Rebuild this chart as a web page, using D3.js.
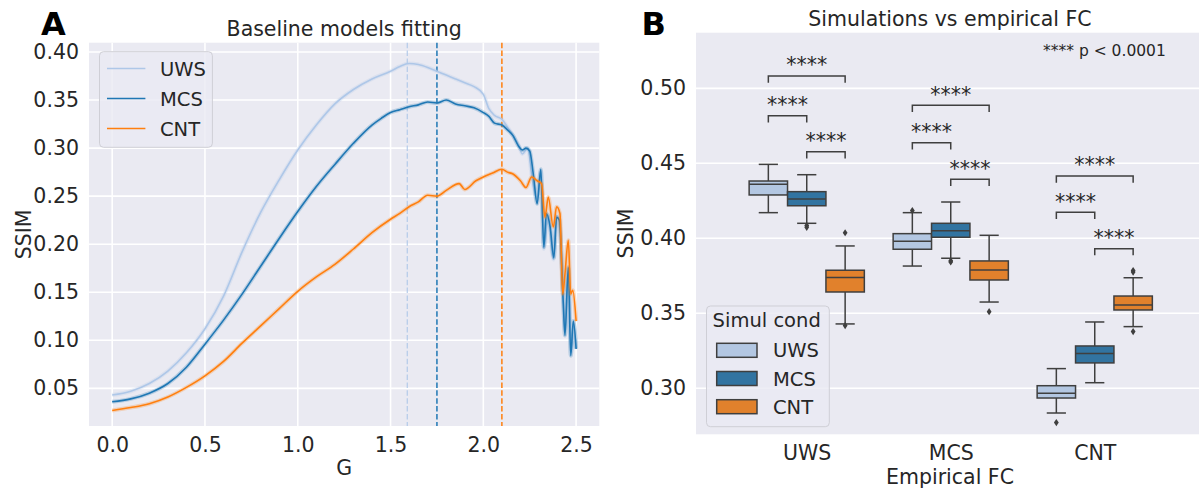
<!DOCTYPE html>
<html><head><meta charset="utf-8">
<script src="https://cdn.jsdelivr.net/npm/d3@7"></script>
<style>body{margin:0;background:#fff} svg text{font-family:"DejaVu Sans",sans-serif}</style>
</head><body>
<svg id="chart" width="1199" height="488"></svg>
<script>
// ---------- Panel A data ----------
const conditions = ["UWS", "MCS", "CNT"];
const uwsG    = [0,0.1,0.2,0.3,0.4,0.5,0.6,0.7,0.8,0.9,1.0,1.1,1.2,1.3,1.4,1.5,1.55,1.6,1.65,1.7,1.75,1.8,1.85,1.9,1.95,2.0,2.03,2.06,2.1,2.13,2.16,2.19,2.21,2.24,2.26,2.29,2.31,2.326,2.35,2.377,2.395,2.413,2.431,2.44,2.458,2.474,2.485,2.5];
const uwsSSIM = [0.043,0.047,0.055,0.068,0.087,0.112,0.146,0.192,0.233,0.267,0.298,0.324,0.346,0.361,0.372,0.380,0.385,0.388,0.387,0.384,0.380,0.376,0.372,0.368,0.364,0.356,0.341,0.334,0.330,0.322,0.313,0.303,0.294,0.300,0.272,0.247,0.276,0.195,0.230,0.184,0.230,0.216,0.140,0.110,0.175,0.088,0.118,0.092];
const mcsG    = [0,0.1,0.2,0.3,0.4,0.5,0.6,0.7,0.8,0.9,1.0,1.1,1.2,1.3,1.4,1.45,1.5,1.55,1.6,1.65,1.7,1.75,1.8,1.85,1.9,1.95,2.0,2.03,2.06,2.1,2.13,2.16,2.19,2.21,2.23,2.25,2.27,2.29,2.31,2.326,2.34,2.36,2.38,2.395,2.41,2.431,2.44,2.458,2.471,2.485,2.5];
const mcsSSIM = [0.036,0.039,0.045,0.055,0.072,0.096,0.121,0.148,0.177,0.206,0.234,0.260,0.283,0.305,0.324,0.331,0.337,0.340,0.343,0.345,0.348,0.347,0.350,0.346,0.344,0.342,0.337,0.333,0.326,0.324,0.319,0.313,0.302,0.298,0.300,0.297,0.272,0.242,0.278,0.197,0.232,0.218,0.186,0.228,0.225,0.138,0.105,0.176,0.084,0.120,0.091];
const cntG    = [0,0.1,0.2,0.3,0.4,0.5,0.6,0.7,0.8,0.9,1.0,1.1,1.2,1.3,1.4,1.5,1.55,1.6,1.65,1.7,1.75,1.8,1.87,1.9,1.96,2.0,2.05,2.1,2.13,2.16,2.2,2.23,2.26,2.29,2.314,2.332,2.35,2.377,2.395,2.413,2.428,2.44,2.458,2.471,2.482,2.5];
const cntSSIM = [0.027,0.030,0.034,0.041,0.051,0.063,0.078,0.097,0.115,0.133,0.151,0.166,0.179,0.195,0.212,0.226,0.232,0.239,0.244,0.251,0.250,0.256,0.263,0.257,0.266,0.270,0.274,0.278,0.275,0.273,0.266,0.259,0.270,0.266,0.263,0.228,0.249,0.218,0.239,0.232,0.148,0.169,0.204,0.148,0.152,0.120];
const bestG = [1.59, 1.75, 2.1];
const xTicksA = [0, 0.5, 1.0, 1.5, 2.0, 2.5];
const yTicksA = [0.05, 0.10, 0.15, 0.20, 0.25, 0.30, 0.35, 0.40];

// ---------- Panel B data (box statistics per simulated condition, across empirical FC) ----------
const empirical = ["UWS", "MCS", "CNT"];
const whiskLo = [[0.4171,0.3815,0.2835],[0.4100,0.3867,0.3037],[0.3429,0.3575,0.3411]];
const q1      = [[0.4289,0.3927,0.2935],[0.4217,0.4007,0.3169],[0.3642,0.3722,0.3522]];
const median  = [[0.4360,0.3980,0.2967],[0.4262,0.4051,0.3231],[0.3738,0.3789,0.3555]];
const q3      = [[0.4382,0.4031,0.3017],[0.4311,0.4100,0.3282],[0.3787,0.3849,0.3615]];
const whiskHi = [[0.4493,0.4171,0.3131],[0.4424,0.4242,0.3442],[0.3949,0.4020,0.3737]];
const outliers = [[[],[0.4185],[0.2771]],[[0.4085,0.4073],[0.3850,0.3842],[]],[[0.3418,0.4037],[0.3511],[0.3775,0.3785,0.3378]]];
const yTicksB = [0.30, 0.35, 0.40, 0.45, 0.50];
// significance brackets
const brCat  = [0,0,0,1,1,1,2,2,2];
const brFrom = [0,0,1,0,0,1,0,0,1];
const brTo   = [2,1,2,2,1,2,2,1,2];
const brY    = [0.5082,0.4817,0.4577,0.4887,0.4637,0.4393,0.4415,0.4173,0.3931];
const brLabel = "****";

// ---------- styling ----------
const lineColors = ["#aec7e8", "#1f77b4", "#ff7f0e"];
const boxColors = ["#b3c7e2", "#3274a1", "#e1812c"];
const BG = "#eaeaf2", TXT = "#262626", EDGE = "#3f3f3f";
const FS = 20.5, LFS = 19.5;
const svg = d3.select("#chart");

function styleAxis(g) {
  g.select(".domain").remove();
  g.attr("font-family", "DejaVu Sans, sans-serif").attr("font-size", FS).style("color", TXT);
}

// ================= Panel A =================
const A = {l: 89, r: 599.3, t: 42.7, b: 426};
const xA = d3.scaleLinear().domain([-0.125, 2.625]).range([A.l, A.r]);
const yA = d3.scaleLinear().domain([0.0108, 0.4097]).range([A.b, A.t]);
svg.append("rect").attr("x", A.l).attr("y", A.t).attr("width", A.r - A.l).attr("height", A.b - A.t).attr("fill", BG);
const gA = svg.append("g");
gA.selectAll(".vg").data(xTicksA).join("line").attr("x1", d => xA(d)).attr("x2", d => xA(d))
  .attr("y1", A.t).attr("y2", A.b).attr("stroke", "#fff").attr("stroke-width", 1.6);
gA.selectAll(".hg").data(yTicksA).join("line").attr("y1", d => yA(d)).attr("y2", d => yA(d))
  .attr("x1", A.l).attr("x2", A.r).attr("stroke", "#fff").attr("stroke-width", 1.6);

svg.append("g").attr("transform", `translate(0,${A.b})`)
  .call(d3.axisBottom(xA).tickValues(xTicksA).tickFormat(d3.format(".1f")).tickSize(0).tickPadding(11)).call(styleAxis);
svg.append("g").attr("transform", `translate(${A.l},0)`)
  .call(d3.axisLeft(yA).tickValues(yTicksA).tickFormat(d3.format(".2f")).tickSize(0).tickPadding(10)).call(styleAxis);

// best-G dashed lines
bestG.forEach((g, i) => {
  svg.append("line").attr("x1", xA(g)).attr("x2", xA(g)).attr("y1", A.t).attr("y2", A.b)
    .attr("stroke", lineColors[i]).attr("stroke-width", i === 0 ? 1.1 : 1.5).attr("stroke-dasharray", "5.5,2.4");
});

const seriesA = [[uwsG, uwsSSIM], [mcsG, mcsSSIM], [cntG, cntSSIM]];
const lineA = d3.line().x(d => xA(d[0])).y(d => yA(d[1])).curve(d3.curveMonotoneX);
seriesA.forEach(([gs, vs], i) => {
  const pts = gs.map((g, k) => [g, vs[k]]);
  svg.append("path").attr("d", lineA(pts)).attr("fill", "none").attr("stroke", lineColors[i])
    .attr("stroke-width", 4).attr("stroke-opacity", 0.25).attr("stroke-linejoin", "round");
  svg.append("path").attr("d", lineA(pts)).attr("fill", "none").attr("stroke", lineColors[i])
    .attr("stroke-width", 1.6).attr("stroke-linejoin", "round");
});

// legend A
svg.append("rect").attr("x", 99.5).attr("y", 51.7).attr("width", 112.9).attr("height", 95.6).attr("rx", 4)
  .attr("fill", BG).attr("fill-opacity", 0.8).attr("stroke", "#cfcfd6").attr("stroke-width", 1);
conditions.forEach((c, i) => {
  const y = 68.5 + i * 30;
  svg.append("line").attr("x1", 107).attr("x2", 145.4).attr("y1", y).attr("y2", y)
    .attr("stroke", lineColors[i]).attr("stroke-width", 1.6);
  svg.append("text").attr("x", 160).attr("y", y + 7.3).attr("font-size", LFS).attr("fill", TXT).text(c);
});

svg.append("text").attr("x", (A.l + A.r) / 2).attr("y", 35.7).attr("text-anchor", "middle")
  .attr("font-size", FS).attr("fill", TXT).text("Baseline models fitting");
svg.append("text").attr("x", (A.l + A.r) / 2).attr("y", 475).attr("text-anchor", "middle")
  .attr("font-size", FS).attr("fill", TXT).text("G");
svg.append("text").attr("transform", `translate(30.6,${(A.t + A.b) / 2}) rotate(-90)`).attr("text-anchor", "middle")
  .attr("font-size", FS).attr("fill", TXT).text("SSIM");
svg.append("text").attr("x", 41).attr("y", 35).attr("font-size", 32).attr("font-weight", "bold").attr("fill", "#000").text("A");

// ================= Panel B =================
const B = {l: 696, r: 1199, t: 32.7, b: 434.3};
const xB = d3.scaleLinear().domain([-0.769, 2.724]).range([B.l, B.r]);
const yB = d3.scaleLinear().domain([0.2693, 0.5371]).range([B.b, B.t]);
svg.append("rect").attr("x", B.l).attr("y", B.t).attr("width", B.r - B.l).attr("height", B.b - B.t).attr("fill", BG);
svg.append("g").selectAll("line").data(yTicksB).join("line").attr("y1", d => yB(d)).attr("y2", d => yB(d))
  .attr("x1", B.l).attr("x2", B.r).attr("stroke", "#fff").attr("stroke-width", 1.6);

svg.append("g").attr("transform", `translate(0,${B.b})`)
  .call(d3.axisBottom(xB).tickValues([0, 1, 2]).tickFormat(i => empirical[i]).tickSize(0).tickPadding(11)).call(styleAxis);
svg.append("g").attr("transform", `translate(${B.l},0)`)
  .call(d3.axisLeft(yB).tickValues(yTicksB).tickFormat(d3.format(".2f")).tickSize(0).tickPadding(10)).call(styleAxis);

const hueW = xB(0.8 / 3) - xB(0);
const hueX = (cat, hue) => xB(cat) + (hue - 1) * hueW;
const gB = svg.append("g");
for (let h = 0; h < 3; h++) {
  for (let c = 0; c < 3; c++) {
    const cx = hueX(c, h);
    const ln = (x1, y1, x2, y2) => gB.append("line").attr("x1", x1).attr("y1", y1).attr("x2", x2).attr("y2", y2)
      .attr("stroke", EDGE).attr("stroke-width", 1.5);
    ln(cx, yB(q3[h][c]), cx, yB(whiskHi[h][c]));
    ln(cx, yB(q1[h][c]), cx, yB(whiskLo[h][c]));
    ln(cx - hueW / 4, yB(whiskHi[h][c]), cx + hueW / 4, yB(whiskHi[h][c]));
    ln(cx - hueW / 4, yB(whiskLo[h][c]), cx + hueW / 4, yB(whiskLo[h][c]));
    gB.append("rect").attr("x", cx - hueW / 2).attr("y", yB(q3[h][c])).attr("width", hueW)
      .attr("height", yB(q1[h][c]) - yB(q3[h][c])).attr("fill", boxColors[h]).attr("stroke", EDGE).attr("stroke-width", 1.5);
    ln(cx - hueW / 2, yB(median[h][c]), cx + hueW / 2, yB(median[h][c]));
    outliers[h][c].forEach(v => {
      gB.append("path").attr("transform", `translate(${cx},${yB(v)})`).attr("d", "M0,-3.6L2.4,0L0,3.6L-2.4,0Z").attr("fill", EDGE);
    });
  }
}

// significance brackets
brCat.forEach((c, k) => {
  const x1 = hueX(c, brFrom[k]), x2 = hueX(c, brTo[k]), y = yB(brY[k]);
  svg.append("path").attr("d", `M${x1},${y + 6.7}V${y}H${x2}V${y + 6.7}`).attr("fill", "none")
    .attr("stroke", EDGE).attr("stroke-width", 1.5);
  svg.append("text").attr("x", (x1 + x2) / 2).attr("y", y - 3.7).attr("text-anchor", "middle")
    .attr("font-size", FS).attr("fill", TXT).text(brLabel);
});
svg.append("text").attr("x", 1043).attr("y", 56).attr("font-size", 15.5).attr("fill", TXT).text("**** p < 0.0001");

// legend B
svg.append("rect").attr("x", 706.5).attr("y", 306).attr("width", 122.8).attr("height", 120.7).attr("rx", 4)
  .attr("fill", BG).attr("fill-opacity", 0.8).attr("stroke", "#cfcfd6").attr("stroke-width", 1);
svg.append("text").attr("x", 766.7).attr("y", 327.3).attr("text-anchor", "middle").attr("font-size", LFS).attr("fill", TXT).text("Simul cond");
conditions.forEach((c, i) => {
  const y = 343.3 + i * 28.2;
  svg.append("rect").attr("x", 716.7).attr("y", y).attr("width", 40.3).attr("height", 14)
    .attr("fill", boxColors[i]).attr("stroke", EDGE).attr("stroke-width", 1.5);
  svg.append("text").attr("x", 773).attr("y", y + 14).attr("font-size", LFS).attr("fill", TXT).text(c);
});

svg.append("text").attr("x", 950).attr("y", 26).attr("text-anchor", "middle").attr("font-size", FS).attr("fill", TXT).text("Simulations vs empirical FC");
svg.append("text").attr("x", 950).attr("y", 484.3).attr("text-anchor", "middle").attr("font-size", FS).attr("fill", TXT).text("Empirical FC");
svg.append("text").attr("transform", `translate(633,${(B.t + B.b) / 2}) rotate(-90)`).attr("text-anchor", "middle")
  .attr("font-size", FS).attr("fill", TXT).text("SSIM");
svg.append("text").attr("x", 641.5).attr("y", 35).attr("font-size", 32).attr("font-weight", "bold").attr("fill", "#000").text("B");
</script>
</body></html>
